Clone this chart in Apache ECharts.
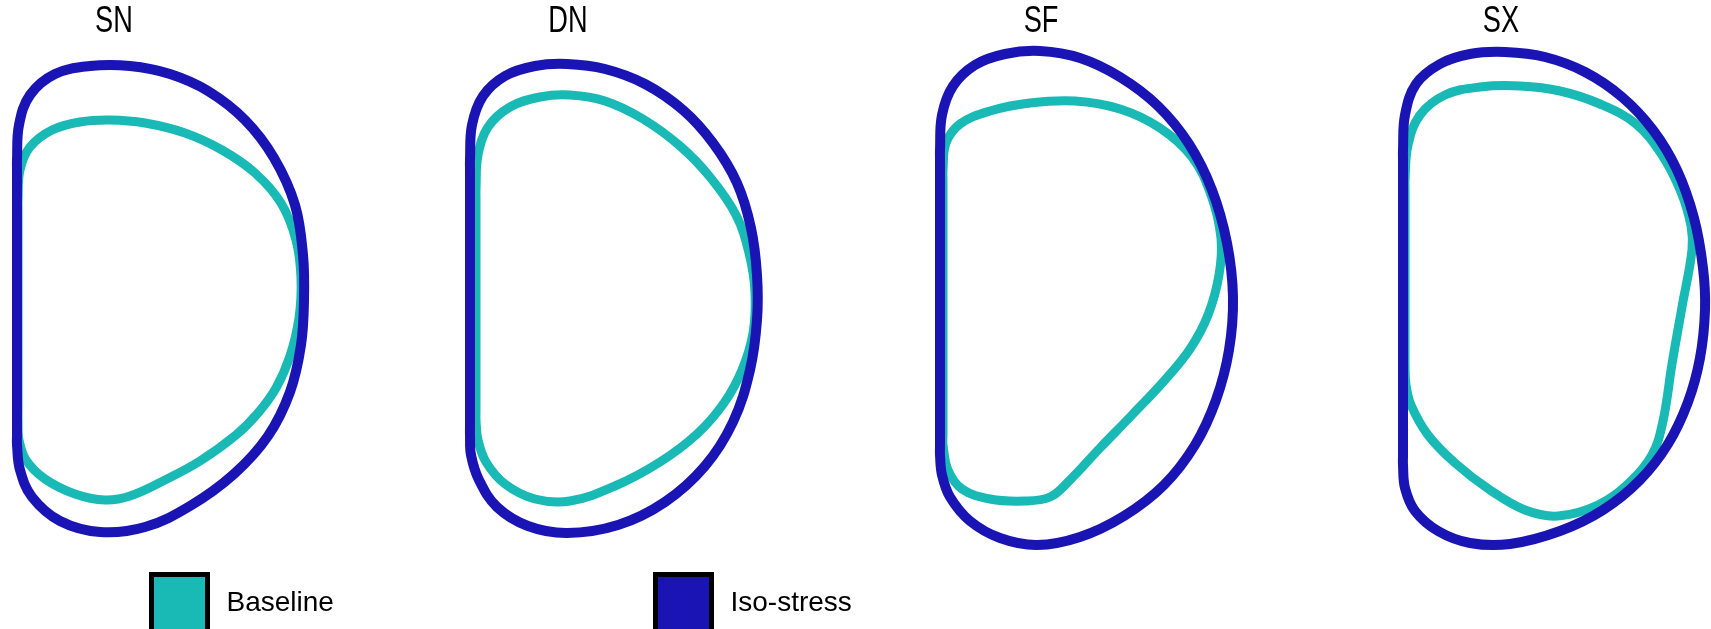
<!DOCTYPE html>
<html>
<head>
<meta charset="utf-8">
<script src="https://cdn.jsdelivr.net/npm/echarts@6/dist/echarts.min.js"></script>
<style>
html,body{margin:0;padding:0;background:#fff;}
#chart{width:1711px;height:629px;}
</style>
</head>
<body>
<div id="chart"></div>
<script>
// Panel titles
var PANELS = ['SN', 'DN', 'SF', 'SX'];
var SERIES_NAMES = ['Baseline', 'Iso-stress'];

// Closed coil outlines, [R (m), Z (m)] (loop closes back to the first point)
var SN_BASELINE = [[3.9,0],[3.9,4.5],[3.9,5.0],[4.0,6.5],[4.5,7.65],[5.6,8.5],[7.0,8.9],[8.5,9.0],[10.25,8.85],[12.25,8.35],[14.1,7.5],[15.75,6.35],[17.05,4.85],[17.8,3.0],[18.05,1.1],[17.95,-0.9],[17.5,-2.8],[16.8,-4.4],[15.9,-5.65],[14.8,-6.75],[13.0,-8.05],[11.25,-9.0],[9.5,-9.8],[8.25,-10.0],[6.75,-9.7],[5.25,-8.95],[4.3,-8.0],[3.95,-7.0],[3.9,-6.0],[3.9,-5.5]];
var SN_ISO = [[3.85,0],[3.85,6.5],[3.85,7.0],[3.95,8.75],[4.5,10.25],[5.75,11.3],[7.5,11.7],[9.5,11.7],[11.5,11.3],[13.4,10.45],[15.25,9.0],[16.7,7.1],[17.75,4.75],[18.15,2.25],[18.2,0],[18.05,-2.25],[17.5,-4.6],[16.4,-6.8],[14.7,-8.7],[12.5,-10.3],[10.25,-11.35],[8.0,-11.6],[6.0,-11.05],[4.6,-9.85],[4.0,-8.5],[3.85,-7.25],[3.85,-6.75]];

var DN_BASELINE = [[4.3,0],[4.3,5.0],[4.3,5.5],[4.4,7.25],[4.9,8.65],[6.0,9.65],[7.5,10.15],[9.0,10.25],[10.75,9.95],[12.65,9.05],[14.5,7.7],[16.0,6.15],[17.3,4.25],[17.95,2.35],[18.25,0.4],[18.15,-1.65],[17.6,-3.5],[16.7,-5.15],[15.35,-6.7],[13.5,-8.1],[11.25,-9.3],[9.0,-10.05],[7.25,-9.95],[5.75,-9.2],[4.8,-8.1],[4.4,-7.0],[4.3,-6.0],[4.3,-5.5]];
var DN_ISO = [[4.0,0],[4.0,6.5],[4.0,7.0],[4.1,8.75],[4.65,10.2],[5.75,11.2],[7.25,11.7],[8.85,11.8],[10.75,11.55],[12.75,10.8],[14.65,9.5],[16.15,7.85],[17.35,5.85],[18.05,3.6],[18.35,1.25],[18.35,-1.0],[18.0,-3.5],[17.15,-6.1],[15.75,-8.3],[13.75,-10.1],[11.4,-11.25],[8.85,-11.65],[6.9,-11.3],[5.35,-10.35],[4.45,-9.0],[4.05,-7.75],[4.0,-6.75],[4.0,-6.25]];

var SF_BASELINE = [[4.15,0],[4.15,6.0],[4.15,6.5],[4.3,7.85],[5.0,8.8],[6.5,9.45],[8.5,9.85],[10.75,9.95],[13.0,9.55],[15.0,8.6],[16.6,7.15],[17.55,5.25],[18.05,3.1],[17.95,1.25],[17.4,-0.75],[16.5,-2.45],[15.2,-4.05],[13.6,-5.75],[12.0,-7.4],[10.4,-9.1],[9.5,-9.85],[8.25,-10.05],[6.5,-9.95],[5.1,-9.45],[4.4,-8.5],[4.15,-7.25],[4.15,-6.75]];
var SF_ISO = [[4.0,0],[4.0,7.0],[4.0,7.5],[4.1,9.25],[4.65,10.7],[5.75,11.75],[7.25,12.3],[9.0,12.45],[11.0,12.1],[13.0,11.15],[14.9,9.7],[16.45,7.8],[17.6,5.5],[18.35,2.85],[18.65,0.15],[18.45,-2.5],[17.8,-5.0],[16.75,-7.25],[15.2,-9.25],[13.2,-10.8],[11.0,-11.85],[8.85,-12.25],[7.0,-11.9],[5.5,-11.05],[4.5,-9.85],[4.1,-8.75],[4.0,-7.75],[4.0,-7.25]];

var SX_BASELINE = [[4.0,0],[4.0,5.5],[4.0,6.0],[4.15,7.75],[4.75,9.25],[6.0,10.25],[7.75,10.65],[9.75,10.7],[11.75,10.45],[13.75,9.8],[15.55,8.8],[16.85,7.25],[17.8,5.4],[18.3,3.7],[18.35,2.5],[17.85,-0.35],[17.35,-3.2],[16.9,-6.05],[16.35,-7.75],[15.25,-9.1],[13.65,-10.25],[11.65,-10.8],[10.0,-10.5],[8.25,-9.5],[6.5,-8.15],[5.15,-6.75],[4.3,-5.25],[4.05,-4.25],[4.0,-3.25],[4.0,-2.75]];
var SX_ISO = [[3.9,0],[3.9,7.0],[3.9,7.5],[4.0,9.25],[4.55,10.8],[5.75,11.8],[7.25,12.3],[9.0,12.4],[11.0,12.15],[13.0,11.4],[14.85,10.15],[16.4,8.5],[17.6,6.5],[18.45,4.1],[18.9,1.6],[19.0,-0.5],[18.75,-2.9],[18.15,-5.1],[17.15,-7.2],[15.75,-9.0],[13.9,-10.5],[11.75,-11.55],[9.25,-12.2],[7.25,-12.15],[5.65,-11.55],[4.5,-10.55],[4.0,-9.4],[3.9,-8.25],[3.9,-7.75]];

var BASELINES = [SN_BASELINE, DN_BASELINE, SF_BASELINE, SX_BASELINE];
var ISOS = [SN_ISO, DN_ISO, SF_ISO, SX_ISO];

var TEAL = '#19b9b5';
var BLUE = '#1a14b4';
var panelLeft = [0, 450, 920, 1385];
var titleX = [114, 568, 1041, 1501];

function loopSeries(name, data, color, width, gi, z) {
  return {
    name: name, type: 'custom', xAxisIndex: gi, yAxisIndex: gi,
    data: data, encode: {x: 0, y: 1},
    itemStyle: {color: color},
    clip: false, silent: true, animation: false, z: z,
    renderItem: function (params, api) {
      if (params.dataIndex !== 0) return null;
      var pts = data.map(function (p) { return api.coord(p); });
      return {
        type: 'polygon',
        shape: {points: pts, smooth: 0.38},
        style: {fill: 'none', stroke: color, lineWidth: width, lineJoin: 'round'},
        silent: true
      };
    }
  };
}

var grids = [], xAxes = [], yAxes = [], series = [], graphics = [];
for (var i = 0; i < 4; i++) {
  grids.push({left: panelLeft[i], top: 0, width: 320, height: 600});
  xAxes.push({type: 'value', gridIndex: i, min: 3, max: 19, show: false});
  yAxes.push({type: 'value', gridIndex: i, min: -15, max: 15, show: false});
  series.push(loopSeries(SERIES_NAMES[0], BASELINES[i], TEAL, 9, i, 2));
  series.push(loopSeries(SERIES_NAMES[1], ISOS[i], BLUE, 10, i, 3));
  graphics.push({
    type: 'text', x: titleX[i], y: 22, scaleX: 0.755,
    style: {text: PANELS[i], font: '36px "Liberation Sans", Arial, sans-serif',
            fill: '#000', textAlign: 'center', textVerticalAlign: 'middle'}
  });
}

var legendCommon = {
  orient: 'horizontal', top: 572, padding: 0,
  icon: 'rect', itemWidth: 56, itemHeight: 58,
  itemStyle: {borderColor: '#000', borderWidth: 5},
  textStyle: {fontSize: 28, fontFamily: '"Liberation Sans", Arial, sans-serif', color: '#000', padding: [0, 0, 0, 14]},
  selectedMode: false
};
var legends = [
  Object.assign({}, legendCommon, {left: 149, data: [{name: SERIES_NAMES[0], itemStyle: {color: TEAL}}]}),
  Object.assign({}, legendCommon, {left: 653, data: [{name: SERIES_NAMES[1], itemStyle: {color: BLUE}}]})
];

var chart = echarts.init(document.getElementById('chart'), null, {renderer: 'canvas'});
chart.setOption({
  backgroundColor: '#fff',
  animation: false,
  grid: grids,
  xAxis: xAxes,
  yAxis: yAxes,
  legend: legends,
  graphic: graphics,
  series: series
});
</script>
</body>
</html>
